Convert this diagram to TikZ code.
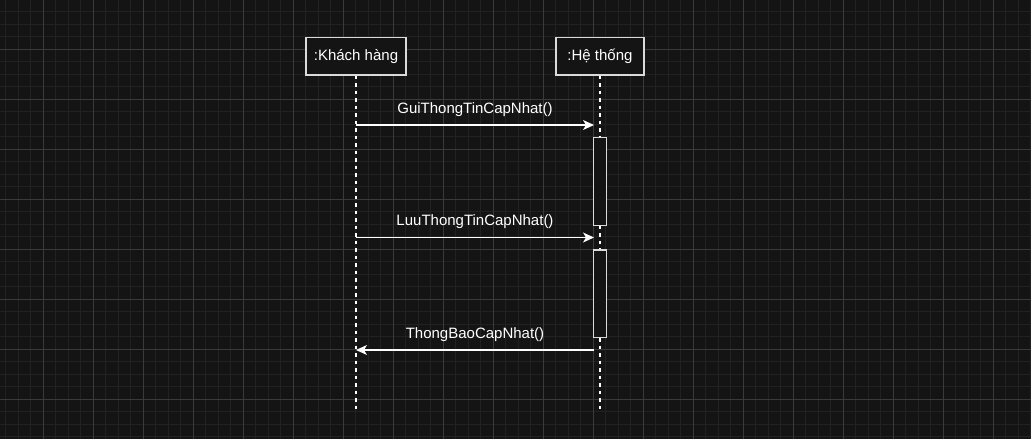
\documentclass[tikz,border=0pt]{standalone}
\usepackage{fontspec}
\setmainfont{Liberation Sans}
\usetikzlibrary{arrows.meta}
\definecolor{bgdark}{HTML}{141414}
\definecolor{gridminor}{HTML}{222222}
\definecolor{gridmajor}{HTML}{3A3A3A}
\definecolor{boxline}{HTML}{DADADA}
\begin{document}
\begin{tikzpicture}[x=1pt,y=-1pt]
\tikzstyle{every node}+=[inner sep=0pt, text=white, font=\fontsize{15}{18}\selectfont]
\tikzstyle{object}=[draw=boxline, fill=bgdark, line width=1.25pt, minimum height=37.5pt]
\tikzstyle{activation}=[draw=boxline, fill=bgdark, line width=1.25pt, minimum width=12.5pt]
\tikzstyle{lifeline}=[white, line width=1.25pt, dash pattern=on 3.75pt off 3.75pt]
\tikzstyle{message}=[white, line width=1.25pt, -{Stealth[length=11pt,width=10pt,inset=3pt]}]
\tikzstyle{msglabel}=[midway, anchor=base, yshift=12pt]
% background and grid
\fill [bgdark] (0,0) rectangle (1031,439);
\useasboundingbox (0,0) rectangle (1031,439);
\foreach \i in {0,...,82} \draw [gridminor, line width=1pt] ({5.8+12.5*\i},0) -- ({5.8+12.5*\i},439);
\foreach \j in {0,...,35} \draw [gridminor, line width=1pt] (0,{11.8+12.5*\j}) -- (1031,{11.8+12.5*\j});
\foreach \i in {0,...,20} \draw [gridmajor, line width=1pt] ({43.3+50*\i},0) -- ({43.3+50*\i},439);
\foreach \j in {0,...,8} \draw [gridmajor, line width=1pt] (0,{49.3+50*\j}) -- (1031,{49.3+50*\j});
% objects
\node [object, minimum width=100pt] (khach) at (356,56.25) {:Khách hàng};
\node [object, minimum width=88pt] (heth) at (600,56.25) {:Hệ thống};
% lifelines
\coordinate (khach-end) at (356,412);
\coordinate (heth-end) at (600,412);
\draw [lifeline] (khach.south) -- (khach-end);
\draw [lifeline] (heth.south) -- (heth-end);
% activations
\node [activation, minimum height=88pt] (act1) at (600,181.25) {};
\node [activation, minimum height=87.5pt] (act2) at (600,293.75) {};
% messages
\coordinate (gui-s) at (356,125);
\coordinate (gui-e) at (594,125);
\draw [message] (gui-s) -- (gui-e) node [msglabel] {GuiThongTinCapNhat()};
\coordinate (luu-s) at (356,237.5);
\coordinate (luu-e) at (594,237.5);
\draw [message] (luu-s) -- (luu-e) node [msglabel] {LuuThongTinCapNhat()};
\coordinate (tb-s) at (594,350);
\coordinate (tb-e) at (356,350);
\draw [message] (tb-s) -- (tb-e) node [msglabel] {ThongBaoCapNhat()};
\end{tikzpicture}
\end{document}
